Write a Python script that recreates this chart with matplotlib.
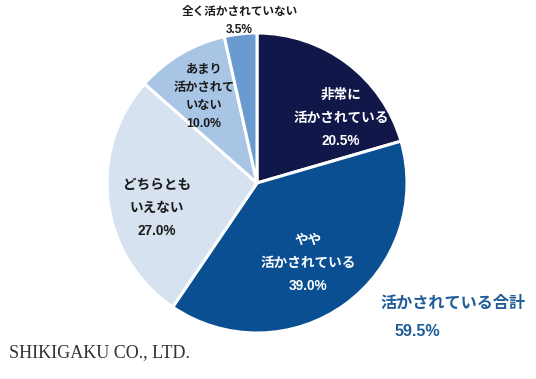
import matplotlib
matplotlib.use('Agg')
import matplotlib.pyplot as plt

plt.rcParams['font.family'] = ['Liberation Sans', 'Noto Sans CJK JP']

# slices, clockwise from 12 o'clock
labels = ['非常に\n活かされている', 'やや\n活かされている', 'どちらとも\nいえない',
          'あまり\n活かされて\nいない', '全く活かされていない']
values = [20.5, 39.0, 27.0, 10.0, 3.5]
colors = ['#111849', '#0b4f93', '#d6e2f0', '#a8c5e6', '#6a9bd0']
total_label = '活かされている合計'
total_value = values[0] + values[1]

W, H = 536, 379
fig = plt.figure(figsize=(W / 100, H / 100), dpi=100)
ax = fig.add_axes([0, 0, 1, 1])

# pie in pixel-like coords (y axis flipped, so angles go the other way)
ax.pie(values, colors=colors, startangle=-90, counterclock=True,
       center=(257, 183), radius=150, frame=True,
       wedgeprops=dict(edgecolor='white', linewidth=2.2))
ax.set_xlim(0, W)
ax.set_ylim(H, 0)
ax.set_aspect('equal')
ax.axis('off')

# in-slice labels
txt = dict(ha='center', va='center', fontsize=9.8, fontweight='bold', linespacing=1.85)
ax.text(341, 118, f'{labels[0]}\n{values[0]:.1f}%', color='white', **txt)
ax.text(308, 263, f'{labels[1]}\n{values[1]:.1f}%', color='white', **txt)
ax.text(157, 208, f'{labels[2]}\n{values[2]:.1f}%', color='#1a1a1a', **txt)
ax.text(204, 97, f'{labels[3]}\n{values[3]:.1f}%', color='#1a1a1a',
        ha='center', va='center', fontsize=8.8, fontweight='bold', linespacing=1.7)
ax.text(240, 12, labels[4], color='#1a1a1a', ha='center', va='center',
        fontsize=8.4, fontweight='bold')
ax.text(239, 30, f'{values[4]:.1f}%', color='#1a1a1a', ha='center', va='center',
        fontsize=8.6, fontweight='bold')

# total
ax.text(380, 303, total_label, color='#1f5c99', ha='left', va='center',
        fontsize=11.6, fontweight='bold')
ax.text(395, 331, f'{total_value:.1f}%', color='#1f5c99', ha='left', va='center',
        fontsize=11.6, fontweight='bold')

ax.text(9, 353, 'SHIKIGAKU CO., LTD.', family='Liberation Serif', color='#333333',
        ha='left', va='center', fontsize=13)

fig.savefig('out.png', dpi=100)
